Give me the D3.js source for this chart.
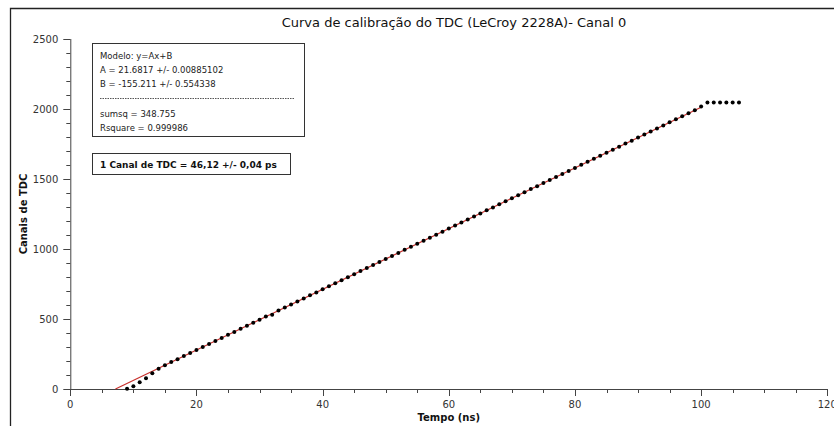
<!DOCTYPE html>
<html><head><meta charset="utf-8">
<script src="https://cdn.jsdelivr.net/npm/d3@7"></script>
<style>body{margin:0;background:#fff}svg{display:block;font-family:"DejaVu Sans",sans-serif}</style>
</head><body>
<svg id="c" width="834" height="426"></svg>
<script>
// ---- data ----
const timeNs = [9,10,11,12,13,14,15,16,17,18,19,20,21,22,23,24,25,26,27,28,29,30,31,32,33,34,35,36,37,38,39,40,41,42,43,44,45,46,47,48,49,50,51,52,53,54,55,56,57,58,59,60,61,62,63,64,65,66,67,68,69,70,71,72,73,74,75,76,77,78,79,80,81,82,83,84,85,86,87,88,89,90,91,92,93,94,95,96,97,98,99,100,101,102,103,104,105,106];
const channels = [2,20,48,76,112,145,170,192,213,235,257,278,300,322,343,365,387,408,430,452,474,495,517,530,560,582,604,625,647,669,690,712,734,755,777,799,820,842,864,885,907,929,950,972,994,1016,1037,1059,1081,1102,1124,1146,1167,1189,1211,1232,1254,1276,1297,1319,1341,1362,1384,1406,1428,1449,1471,1493,1514,1536,1558,1579,1601,1623,1644,1666,1688,1709,1731,1753,1774,1796,1818,1839,1861,1883,1905,1926,1948,1970,1991,2018,2047,2047,2047,2047,2047,2047];
const fitA = 21.6817, fitB = -155.211, fitXmax = 100;
const xTicks = [0,20,40,60,80,100,120];
const yTicks = [0,500,1000,1500,2000,2500];
const title = "Curva de calibração do TDC (LeCroy 2228A)- Canal 0";
const xLabel = "Tempo (ns)", yLabel = "Canais de TDC";
const modelLines = ["Modelo: y=Ax+B","A = 21.6817 +/- 0.00885102","B = -155.211 +/- 0.554338"];
const statLines = ["sumsq = 348.755","Rsquare = 0.999986"];
const resultText = "1 Canal de TDC = 46,12 +/- 0,04 ps";

// ---- layout ----
const svg = d3.select("#c");
const x = d3.scaleLinear().domain([0,120]).range([70.3,827.3]);
const y = d3.scaleLinear().domain([0,2500]).range([389,39]);

// outer frame
svg.append("path").attr("d","M10.5,426 L10.5,8.5 L834,8.5").attr("fill","none").attr("stroke","#222").attr("stroke-width",1.3);

// title
svg.append("text").attr("x",454).attr("y",27).attr("text-anchor","middle").attr("font-size",13).attr("fill","#111").text(title);

// axes
const axCol = "#444";
const xMinor = d3.range(0,121,5), yMinor = d3.range(0,2501,100);
const gx = svg.append("g");
gx.append("line").attr("x1",x(0)).attr("x2",x(120)).attr("y1",y(0)+0.5).attr("y2",y(0)+0.5).attr("stroke",axCol);
gx.selectAll("line.m").data(xMinor).enter().append("line")
  .attr("x1",d=>Math.round(x(d))+0.5).attr("x2",d=>Math.round(x(d))+0.5)
  .attr("y1",y(0)).attr("y2",d=>y(0)+(d%20===0?7:4)).attr("stroke",axCol);
gx.selectAll("text").data(xTicks).enter().append("text")
  .attr("x",d=>x(d)).attr("y",y(0)+19).attr("text-anchor","middle").attr("font-size",10).attr("fill","#333").text(d=>d);
const gy = svg.append("g");
gy.append("line").attr("x1",x(0)+0.5).attr("x2",x(0)+0.5).attr("y1",y(2500)).attr("y2",y(0)).attr("stroke",axCol);
gy.selectAll("line.m").data(yMinor).enter().append("line")
  .attr("y1",d=>Math.round(y(d))+0.5).attr("y2",d=>Math.round(y(d))+0.5)
  .attr("x1",x(0)).attr("x2",d=>x(0)-(d%500===0?7:4)).attr("stroke",axCol);
gy.selectAll("text").data(yTicks).enter().append("text")
  .attr("x",x(0)-12).attr("y",d=>y(d)+3.5).attr("text-anchor","end").attr("font-size",10).attr("fill","#333").text(d=>d);

svg.append("text").attr("x",x(60)).attr("y",421).attr("text-anchor","middle").attr("font-size",10).attr("font-weight","bold").attr("fill","#111").text(xLabel);
svg.append("text").attr("transform",`translate(27,${y(1250)}) rotate(-90)`).attr("text-anchor","middle").attr("font-size",10).attr("font-weight","bold").attr("fill","#111").text(yLabel);

// fit line
const fx0 = -fitB/fitA;
const line = d3.line().x(d=>x(d)).y(d=>y(fitA*d+fitB));
svg.append("path").datum([fx0,fitXmax]).attr("d",line).attr("fill","none").attr("stroke","#c8302c").attr("stroke-width",1.2);

// points
svg.append("g").selectAll("circle").data(timeNs).enter().append("circle")
  .attr("cx",d=>x(d)).attr("cy",(d,i)=>y(channels[i])).attr("r",2).attr("fill","#000");

// info boxes
svg.append("rect").attr("x",92.5).attr("y",43.5).attr("width",212).attr("height",93).attr("fill","#fff").attr("stroke","#333");
modelLines.forEach((t,i)=>svg.append("text").attr("x",100).attr("y",59+i*14).attr("font-size",8.5).attr("fill","#222").text(t));
svg.append("line").attr("x1",100).attr("x2",295).attr("y1",98.5).attr("y2",98.5).attr("stroke","#555").attr("stroke-dasharray","1.5,1");
statLines.forEach((t,i)=>svg.append("text").attr("x",100).attr("y",117+i*14).attr("font-size",8.5).attr("fill","#222").text(t));
svg.append("rect").attr("x",92.5).attr("y",153.5).attr("width",198).attr("height",21).attr("fill","#fff").attr("stroke","#333");
svg.append("text").attr("x",100).attr("y",167.5).attr("font-size",9).attr("font-weight","bold").attr("fill","#111").text(resultText);
</script>
</body></html>
